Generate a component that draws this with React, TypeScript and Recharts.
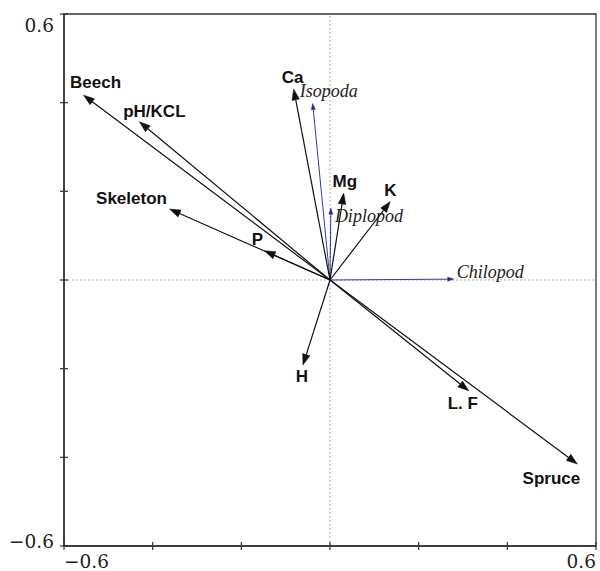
import { ScatterChart, Scatter, XAxis, YAxis, ReferenceLine, ReferenceArea } from 'recharts';

// environmental variables (bold, black arrows)
const envNames = ['Beech', 'pH/KCL', 'Skeleton', 'P', 'Ca', 'Mg', 'K', 'H', 'L. F', 'Spruce'];
const envX = [-0.556, -0.43, -0.362, -0.148, -0.082, 0.031, 0.136, -0.061, 0.313, 0.558];
const envY = [0.417, 0.357, 0.16, 0.066, 0.431, 0.196, 0.177, -0.192, -0.25, -0.415];

// taxa (italic, blue arrows)
const taxaNames = ['Isopoda', 'Diplopod', 'Chilopod'];
const taxaX = [-0.039, 0.002, 0.279];
const taxaY = [0.398, 0.162, 0.002];

const axisTicks = [-0.6, -0.4, -0.2, 0, 0.2, 0.4, 0.6];

// label placement relative to the arrow tip, in px
const LABEL_POS: Record<string, { dx: number; dy: number; anchor: 'start' | 'middle' | 'end' }> = {
  Beech: { dx: 12, dy: -7, anchor: 'middle' },
  'pH/KCL': { dx: 15, dy: -5, anchor: 'middle' },
  Skeleton: { dx: -38, dy: -5, anchor: 'middle' },
  P: { dx: -7, dy: -6, anchor: 'middle' },
  Ca: { dx: -1, dy: -6, anchor: 'middle' },
  Mg: { dx: 1, dy: -6, anchor: 'middle' },
  K: { dx: 0, dy: -6, anchor: 'middle' },
  H: { dx: -1, dy: 17, anchor: 'middle' },
  'L. F': { dx: -6, dy: 18, anchor: 'middle' },
  Spruce: { dx: -26, dy: 20, anchor: 'middle' },
  Isopoda: { dx: -13, dy: -7, anchor: 'start' },
  Diplopod: { dx: 4, dy: 14, anchor: 'start' },
  Chilopod: { dx: 3, dy: -1, anchor: 'start' },
};

const AXIS_COLOR = '#333';
const TAXA_COLOR = '#23239a';

const fmt = (v: number) => (v < 0 ? '\u2212' : '') + Math.abs(v).toFixed(1);
const isEnd = (v: number) => Math.abs(Math.abs(v) - 0.6) < 1e-9;

const XTick = (p: any) => {
  const { x, y, payload } = p;
  const v = payload.value as number;
  return (
    <g>
      <line x1={x} x2={x} y1={y - 4} y2={y + 4} stroke={AXIS_COLOR} strokeWidth={1.2} />
      {isEnd(v) && (
        <text
          x={x}
          y={y + 22}
          textAnchor={v < 0 ? 'start' : 'end'}
          fontFamily="'DejaVu Serif', serif"
          fontSize={18.5}
          fill="#222"
        >
          {fmt(v)}
        </text>
      )}
    </g>
  );
};

const YTick = (p: any) => {
  const { x, y, payload } = p;
  const v = payload.value as number;
  return (
    <g>
      <line x1={x - 4} x2={x + 4} y1={y} y2={y} stroke={AXIS_COLOR} strokeWidth={1.2} />
      {isEnd(v) && (
        <text
          x={x - 10}
          y={v > 0 ? y + 17.5 : y + 2}
          textAnchor="end"
          fontFamily="'DejaVu Serif', serif"
          fontSize={18.5}
          fill="#222"
        >
          {fmt(v)}
        </text>
      )}
    </g>
  );
};

interface ArrowStyle {
  color: string;
  width: number;
  head: number;
  half: number;
  font: string;
  size: number;
  weight: string;
  italic: boolean;
}

const ENV_STYLE: ArrowStyle = {
  color: '#111',
  width: 1.2,
  head: 11,
  half: 3.8,
  font: "'Liberation Sans', Arial, sans-serif",
  size: 17,
  weight: 'bold',
  italic: false,
};

const TAXA_STYLE: ArrowStyle = {
  color: TAXA_COLOR,
  width: 0.9,
  head: 6,
  half: 2,
  font: "'Liberation Serif', 'Times New Roman', serif",
  size: 18,
  weight: 'normal',
  italic: true,
};

function arrowShape(name: string, st: ArrowStyle) {
  return (p: any) => {
    const x1 = Number(p.x1);
    const y1 = Number(p.y1);
    const x2 = Number(p.x2);
    const y2 = Number(p.y2);
    const ang = Math.atan2(y2 - y1, x2 - x1);
    const bx = x2 - st.head * Math.cos(ang);
    const by = y2 - st.head * Math.sin(ang);
    const px = -Math.sin(ang) * st.half;
    const py = Math.cos(ang) * st.half;
    const lp = LABEL_POS[name];
    return (
      <g>
        <line x1={x1} y1={y1} x2={bx} y2={by} stroke={st.color} strokeWidth={st.width} />
        <polygon
          points={`${x2},${y2} ${bx + px},${by + py} ${bx - px},${by - py}`}
          fill={st.color}
          stroke={st.color}
          strokeWidth={0.5}
        />
        <text
          x={x2 + lp.dx}
          y={y2 + lp.dy}
          textAnchor={lp.anchor}
          fontFamily={st.font}
          fontSize={st.size}
          fontWeight={st.weight}
          fontStyle={st.italic ? 'italic' : 'normal'}
          fill={st.italic ? '#222' : '#111'}
        >
          {name}
        </text>
      </g>
    );
  };
}

const tips = [
  ...envNames.map((n, i) => ({ name: n, x: envX[i], y: envY[i] })),
  ...taxaNames.map((n, i) => ({ name: n, x: taxaX[i], y: taxaY[i] })),
];

export default function App() {
  return (
    <div style={{ position: 'absolute', left: 0, top: 0, background: '#fff' }}>
      <ScatterChart width={600} height={571} margin={{ top: 14, right: 4, bottom: 0, left: 0 }}>
        <XAxis
          type="number"
          dataKey="x"
          domain={[-0.6, 0.6]}
          ticks={axisTicks}
          interval={0}
          allowDataOverflow
          height={25}
          tickSize={0}
          tickMargin={0}
          tickLine={false}
          axisLine={{ stroke: AXIS_COLOR, strokeWidth: 1.5 }}
          tick={<XTick />}
        />
        <YAxis
          type="number"
          dataKey="y"
          domain={[-0.6, 0.6]}
          ticks={axisTicks}
          interval={0}
          allowDataOverflow
          width={64}
          tickSize={0}
          tickMargin={0}
          tickLine={false}
          axisLine={{ stroke: AXIS_COLOR, strokeWidth: 1.5 }}
          tick={<YTick />}
        />
        <ReferenceArea
          x1={-0.6}
          x2={0.6}
          y1={-0.6}
          y2={0.6}
          fill="none"
          fillOpacity={0}
          stroke={AXIS_COLOR}
          strokeWidth={1.3}
          ifOverflow="visible"
        />
        <ReferenceLine x={0} stroke="#9a9a9a" strokeWidth={0.8} strokeDasharray="2 2" />
        <ReferenceLine y={0} stroke="#9a9a9a" strokeWidth={0.8} strokeDasharray="2 2" />
        {taxaNames.map((n, i) => (
          <ReferenceLine
            key={n}
            segment={[{ x: 0, y: 0 }, { x: taxaX[i], y: taxaY[i] }]}
            ifOverflow="visible"
            shape={arrowShape(n, TAXA_STYLE)}
          />
        ))}
        {envNames.map((n, i) => (
          <ReferenceLine
            key={n}
            segment={[{ x: 0, y: 0 }, { x: envX[i], y: envY[i] }]}
            ifOverflow="visible"
            shape={arrowShape(n, ENV_STYLE)}
          />
        ))}
        <Scatter data={tips} isAnimationActive={false} shape={() => <g />} />
      </ScatterChart>
    </div>
  );
}
